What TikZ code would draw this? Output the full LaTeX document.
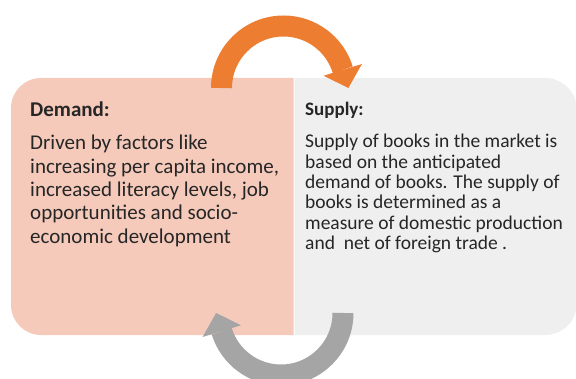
\documentclass[tikz,border=0pt]{standalone}
\usepackage{fontspec}
\setmainfont{Carlito}
\usetikzlibrary{arrows.meta}
\definecolor{demandfill}{RGB}{245,202,187}
\definecolor{supplyfill}{RGB}{239,239,239}
\definecolor{orangearrow}{RGB}{237,125,49}
\definecolor{grayarrow}{RGB}{165,165,165}
\definecolor{textgray}{RGB}{38,38,38}
\tikzstyle{heading} = [anchor=base west, inner sep=0pt, text=textgray]
\tikzstyle{body} = [anchor=base west, inner sep=0pt, text=textgray]
\tikzstyle{cycle arrow} = [line width=21pt, -{Triangle[width=40pt, length=19pt, line width=0pt]}]

\begin{document}
\begin{tikzpicture}[x=1pt, y=1pt]
	\useasboundingbox (0,0) rectangle (576,378);
	
	% panels
	\fill [demandfill] (293.5,300) [rounded corners=30pt] -- (11,300) -- (11,43) [sharp corners] -- (293.5,43) -- cycle;
	\fill [supplyfill] (294.5,43) [rounded corners=32pt] -- (577,43) -- (577,300) [sharp corners] -- (294.5,300) -- cycle;
	
	% cycle arrows
	\coordinate (demand top) at (221.5,290);
	\coordinate (supply bottom) at (343,65);
	\draw [cycle arrow, orangearrow] (demand top) arc [start angle=180, end angle=17, radius=62] -- ++(-73:19);
	\draw [cycle arrow, grayarrow] (supply bottom) arc [start angle=0, end angle=-163, radius=62] -- ++(107:19);
	
	% texts
	\node [heading, font=\fontsize{21}{24}\selectfont\bfseries] at (30,261) (demand head) {Demand:};
	\node [body, font=\fontsize{21}{23.3}\selectfont] at (30,228) (demand text) {\parbox[t]{262pt}{\raggedright
		Driven by factors like\\
		increasing per capita income,\\
		increased literacy levels, job\\
		opportunities and socio-\\
		economic development}};
	
	\node [heading, font=\fontsize{19}{22}\selectfont\bfseries] at (305,262) (supply head) {Supply:};
	\node [body, font=\fontsize{19.5}{20.3}\selectfont] at (305,230) (supply text) {\parbox[t]{268pt}{\raggedright
		Supply of books in the market is\\
		based on the anticipated\\
		demand of books. The supply of\\
		books is determined as a\\
		measure of domestic production\\
		and~ net of foreign trade .}};
	
\end{tikzpicture}
\end{document}
